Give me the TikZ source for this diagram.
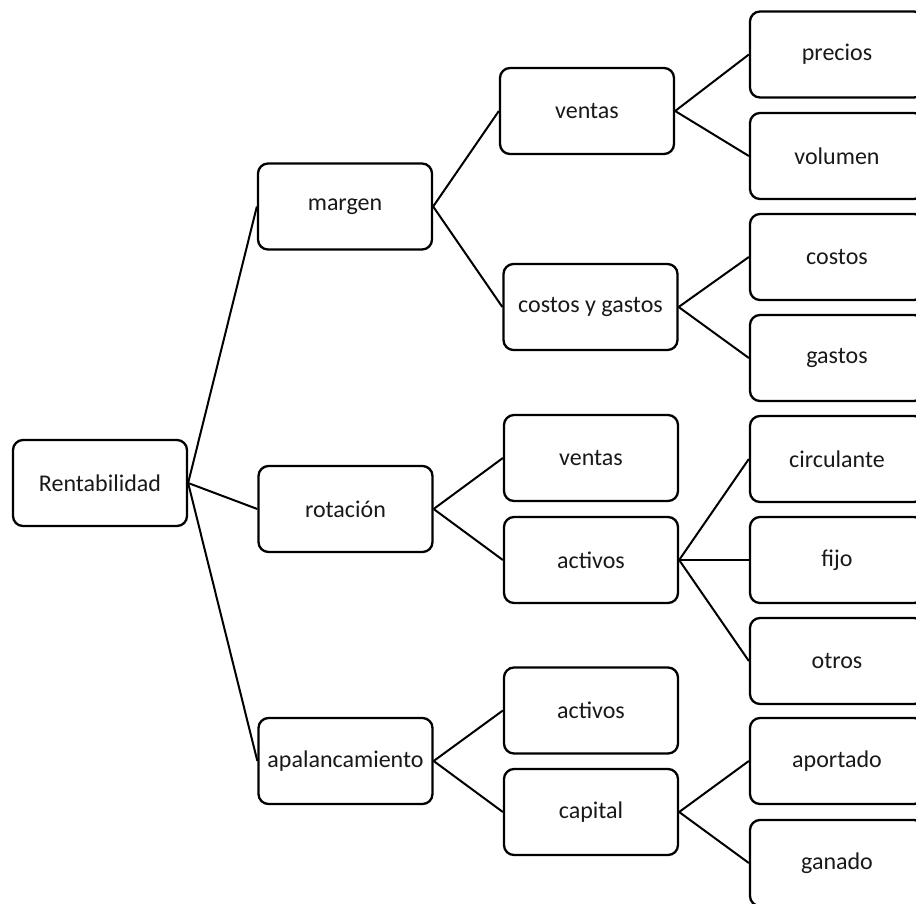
\documentclass[tikz,border=0pt]{standalone}
\usepackage{fontspec}
\setmainfont{Carlito}
\tikzset{
  caja/.style={draw=black,line width=2.3pt,rounded corners=10pt,fill=white,
               minimum width=174pt,minimum height=86pt,inner sep=2pt,
               font=\fontsize{24}{29}\selectfont,text=black!90},
  lin/.style ={line width=2pt,black},
}
\begin{document}
\begin{tikzpicture}[x=1pt,y=-1pt]
  \useasboundingbox (0,0) rectangle (916,903);
  \clip (0,0) rectangle (916,903);
  % raiz y primer nivel
  \node[caja] (rent) at (100,483)   {Rentabilidad};
  \node[caja] (marg) at (345,206.5) {margen};
  \node[caja] (rot)  at (345.5,509) {rotación};
  \node[caja] (apal) at (345.5,761) {apalancamiento};
  % segundo nivel
  \node[caja] (ven1) at (587,111)   {ventas};
  \node[caja] (cyg)  at (590.5,307) {costos y gastos};
  \node[caja] (ven2) at (591,458)   {ventas};
  \node[caja] (act1) at (591,560)   {activos};
  \node[caja] (act2) at (591,710.5) {activos};
  \node[caja] (cap)  at (591,812)   {capital};
  % hojas
  \node[caja] (prec) at (837,54.5)  {precios};
  \node[caja] (vol)  at (837,156)   {volumen};
  \node[caja] (cost) at (837,257)   {costos};
  \node[caja] (gast) at (837,358)   {gastos};
  \node[caja] (circ) at (837,459)   {circulante};
  \node[caja] (fijo) at (837,560)   {fijo};
  \node[caja] (otr)  at (837,661)   {otros};
  \node[caja] (apor) at (837,761)   {aportado};
  \node[caja] (gan)  at (837,863)   {ganado};
  % conectores
  \draw[lin] (rent.east)--(marg.west);
  \draw[lin] (rent.east)--(rot.west);
  \draw[lin] (rent.east)--(apal.west);
  \draw[lin] (marg.east)--(ven1.west);
  \draw[lin] (marg.east)--(cyg.west);
  \draw[lin] (rot.east)--(ven2.west);
  \draw[lin] (rot.east)--(act1.west);
  \draw[lin] (apal.east)--(act2.west);
  \draw[lin] (apal.east)--(cap.west);
  \draw[lin] (ven1.east)--(prec.west);
  \draw[lin] (ven1.east)--(vol.west);
  \draw[lin] (cyg.east)--(cost.west);
  \draw[lin] (cyg.east)--(gast.west);
  \draw[lin] (act1.east)--(circ.west);
  \draw[lin] (act1.east)--(fijo.west);
  \draw[lin] (act1.east)--(otr.west);
  \draw[lin] (cap.east)--(apor.west);
  \draw[lin] (cap.east)--(gan.west);
\end{tikzpicture}
\end{document}
